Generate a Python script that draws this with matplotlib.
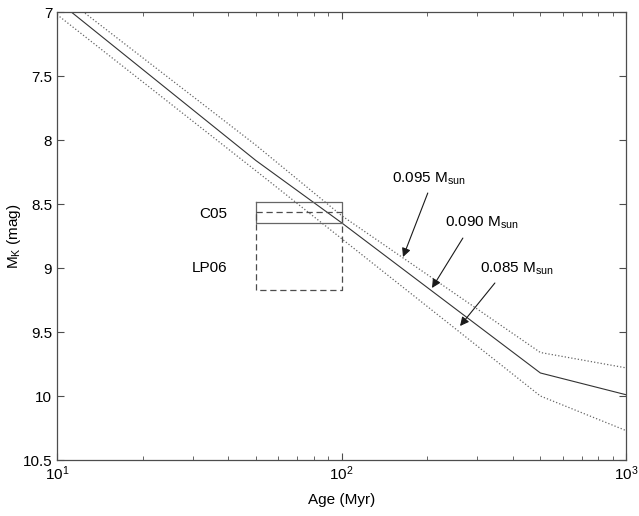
import numpy as np
import matplotlib
matplotlib.use('Agg')
import matplotlib.pyplot as plt
from matplotlib.ticker import FixedLocator, FormatStrFormatter

plt.rcParams['font.family'] = ['Liberation Sans', 'DejaVu Sans']
plt.rcParams['mathtext.fontset'] = 'custom'
plt.rcParams['mathtext.rm'] = 'Liberation Sans'
plt.rcParams['mathtext.it'] = 'Liberation Sans:italic'

# evolutionary tracks, age in Myr vs M_K
age = [10, 50, 100, 500, 1000]
mk_095 = [6.84, 8.04, 8.59, 9.66, 9.78]
mk_090 = [6.91, 8.16, 8.646, 9.82, 9.99]
mk_085 = [7.02, 8.24, 8.77, 10.00, 10.27]

# observational boxes: age range, M_K range
c05_age = [50, 100]
c05_mk = [8.484, 8.646]
lp06_age = [50, 100]
lp06_mk = [8.565, 9.175]

# arrow labels: (text x, text y, tail x, tail y, tip x, tip y)
labels = ['0.095 M$_{\\mathrm{sun}}$', '0.090 M$_{\\mathrm{sun}}$', '0.085 M$_{\\mathrm{sun}}$']
lab_xy = [(150, 8.30), (231, 8.65), (307, 9.01)]
tails = [(201, 8.414), (267, 8.766), (346, 9.117)]
tips = [(164.5, 8.914), (208, 9.156), (261, 9.453)]

fig = plt.figure(figsize=(6.39, 5.16), dpi=100)
ax = fig.add_axes([0.0892, 0.1085, 0.8905, 0.8682])

ax.plot(age, mk_095, ':', color='0.4', lw=0.9)
ax.plot(age, mk_090, '-', color='0.2', lw=0.8)
ax.plot(age, mk_085, ':', color='0.4', lw=0.9)

# C05 box (solid)
ax.plot([c05_age[0], c05_age[1], c05_age[1], c05_age[0], c05_age[0]],
        [c05_mk[0], c05_mk[0], c05_mk[1], c05_mk[1], c05_mk[0]],
        '-', color='0.4', lw=0.9)
# LP06 box (dashed)
ax.plot([lp06_age[0], lp06_age[1], lp06_age[1], lp06_age[0], lp06_age[0]],
        [lp06_mk[0], lp06_mk[0], lp06_mk[1], lp06_mk[1], lp06_mk[0]],
        '--', color='0.3', lw=0.9, dashes=(5, 3))

ax.text(31.5, 8.578, 'C05', fontsize=11, va='center', ha='left')
ax.text(29.8, 9.0, 'LP06', fontsize=11, va='center', ha='left')

for lab, (tx, ty), (ax0, ay0), (bx, by) in zip(labels, lab_xy, tails, tips):
    ax.text(tx, ty, lab, fontsize=11, va='center', ha='left')
    ax.annotate('', xy=(bx, by), xytext=(ax0, ay0),
                arrowprops=dict(arrowstyle='-|>', color='0.1', lw=0.8,
                                mutation_scale=13, shrinkA=0, shrinkB=0))

ax.set_xscale('log')
ax.set_xlim(10, 1000)
ax.set_ylim(10.5, 7)
ax.yaxis.set_major_locator(FixedLocator([7, 7.5, 8, 8.5, 9, 9.5, 10, 10.5]))
ax.yaxis.set_major_formatter(FormatStrFormatter('%g'))

ax.tick_params(which='both', direction='in', top=True, right=True,
               labelsize=11, color='0.3')
ax.tick_params(which='major', length=5)
ax.tick_params(which='minor', length=3)
ax.tick_params(axis='x', pad=3)
for s in ax.spines.values():
    s.set_color('0.3')
    s.set_linewidth(0.9)

ax.set_xlabel('Age (Myr)', fontsize=11, va='center')
ax.set_ylabel('M$_{\\mathrm{K}}$ (mag)', fontsize=11, va='center')
ax.xaxis.set_label_coords(0.5, -0.089)
ax.yaxis.set_label_coords(-0.075, 0.5)

fig.savefig('out.png', dpi=100)
